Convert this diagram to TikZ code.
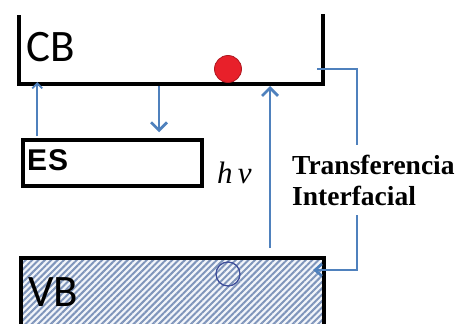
\documentclass[tikz,border=0pt]{standalone}
\usepackage{fontspec}
\usepackage{tikz}
\usetikzlibrary{arrows.meta,patterns.meta}
\newfontfamily\bandfont{Carlito}
\newfontfamily\boxfont{Liberation Sans}
\newfontfamily\labelfont{Liberation Serif}
\definecolor{bandblue}{HTML}{4F81BD}
\definecolor{hatchblue}{HTML}{7F95BB}
\definecolor{hatchback}{HTML}{F2F5FA}
\definecolor{dotred}{HTML}{E8202A}
\definecolor{holeblue}{HTML}{3F4F9A}

\begin{document}
\begin{tikzpicture}[x=1pt,y=-1pt,
    bandline/.style={line width=3.5pt,black},
    thinjump/.style={-{Straight Barb[length=5pt,width=10pt]},line width=1.8pt,bandblue},
    jump/.style={-{Straight Barb[length=8pt,width=16pt]},line width=2.8pt,bandblue},
    transfer/.style={line width=2.6pt,bandblue},
    bandlabel/.style={anchor=base west,inner sep=0,font=\bandfont\fontsize{45}{45}\selectfont}]
    \useasboundingbox (0,0) rectangle (459,324);
    % banda de conduccion
    \coordinate (cbL) at (19,84);
    \coordinate (cbR) at (323,84);
    \draw[bandline] (19,15) -- (cbL) -- (cbR) -- (323,14);
    \node[bandlabel] (cb) at (26,62) {CB};
    % banda de valencia
    \fill[hatchback] (21,258) rectangle (324,330);
    \path[pattern={Lines[angle=45,distance=4.5pt,line width=2pt]},pattern color=hatchblue] (21,258) rectangle (324,330);
    \draw[bandline] (21,330) -- (21,258) -- (324,258) -- (324,330);
    \node[bandlabel] (vb) at (28,306) {VB};
    % estado superficial
    \node[draw,line width=3.5pt,minimum width=179pt,minimum height=46pt,inner sep=0] (esbox) at (112.5,163) {};
    \node[anchor=base west,inner sep=0,font=\boxfont\bfseries\fontsize{30}{30}\selectfont] (es) at (27,170) {E\kern1pt S};
    \draw[thinjump] ([xshift=16pt,yshift=2pt]esbox.north west) -- ([xshift=16pt,yshift=2pt]esbox.north west |- cbL);
    \coordinate (down) at (159,86);
    \draw[jump] (down) -- ([yshift=6pt]down |- esbox.north);
    % electron y hueco
    \node[circle,fill=dotred,draw=dotred!75!black,line width=0.8pt,minimum size=27pt,inner sep=0] (e) at (228,69) {};
    \node[circle,draw=holeblue,line width=1.3pt,minimum size=24pt,inner sep=0] (h) at (228,274) {};
    % excitacion
    \coordinate (hvbot) at (270,248);
    \draw[jump] (hvbot) -- ([yshift=-2pt]hvbot |- cbL);
    \node[anchor=base west,inner sep=0,font=\labelfont\itshape\fontsize{31}{31}\selectfont] (hv) at (217,183) {h\,ν};
    % transferencia interfacial
    \node[anchor=base west,inner sep=0,font=\labelfont\bfseries\fontsize{27.5}{30}\selectfont] (trans) at (292,175) {Transferencia};
    \node[anchor=base west,inner sep=0,font=\labelfont\bfseries\fontsize{27.5}{30}\selectfont] (interf) at (292,205) {Interfacial};
    \coordinate (tup) at (357,69);
    \coordinate (vbtip) at (313,270);
    \draw[transfer] ([xshift=-6pt]cbR |- tup) -- (tup) -- ([yshift=10pt]trans.north -| tup);
    \draw[transfer,-{Straight Barb[length=7pt,width=12pt]}] ([yshift=-10pt]interf.south -| tup) -- (tup |- vbtip) -- (vbtip);
\end{tikzpicture}
\end{document}
